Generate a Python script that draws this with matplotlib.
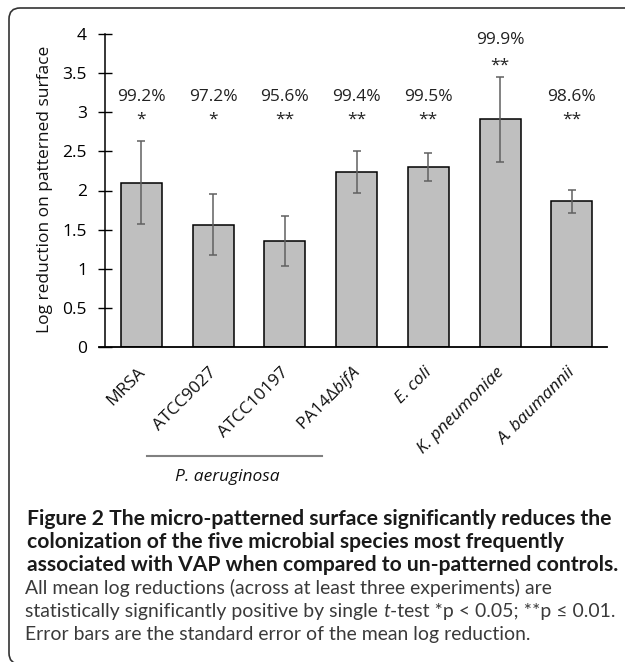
import matplotlib
matplotlib.use("Agg")
import matplotlib.pyplot as plt
import matplotlib.transforms as mtransforms
from matplotlib.patches import FancyBboxPatch
from matplotlib.lines import Line2D
import numpy as np

plt.rcParams['font.family'] = ['Open Sans', 'DejaVu Sans']
plt.rcParams['mathtext.fontset'] = 'custom'
plt.rcParams['mathtext.rm'] = 'Open Sans'
plt.rcParams['mathtext.it'] = 'Open Sans:italic'
plt.rcParams['mathtext.bf'] = 'Open Sans:bold'

# ---- data ----
categories = ['MRSA', 'ATCC9027', 'ATCC10197', r'PA14Δ$\mathit{bifA}$',
              'E. coli', 'K. pneumoniae', 'A. baumannii']
italic = [False, False, False, False, True, True, True]
values = [2.10, 1.56, 1.36, 2.24, 2.30, 2.91, 1.86]
errors = [0.53, 0.39, 0.32, 0.27, 0.18, 0.54, 0.15]
percents = ['99.2%', '97.2%', '95.6%', '99.4%', '99.5%', '99.9%', '98.6%']
stars = ['*', '*', '**', '**', '**', '**', '**']
yticks = [0, 0.5, 1, 1.5, 2, 2.5, 3, 3.5, 4]
ytick_labels = ['0', '0.5', '1', '1.5', '2', '2.5', '3', '3.5', '4']
group_label = 'P. aeruginosa'
caption_bold = ['Figure 2 The micro-patterned surface significantly reduces the',
                'colonization of the five microbial species most frequently',
                'associated with VAP when compared to un-patterned controls.']
caption_regular = [
    [('All mean log reductions (across at least three experiments) are', 'normal')],
    [('statistically significantly positive by single', 'normal'), (' ', 'space'),
     ('t', 'italic'), ('-test *p < 0.05; **p ≤ 0.01.', 'normal')],
    [('Error bars are the standard error of the mean log reduction.', 'normal')],
]

W, H = 625, 662
fig = plt.figure(figsize=(W / 100, H / 100), dpi=100)

def fx(px):
    return px / W

def fy(py):
    return 1 - py / H

# axes: x from 99 to 607 px, y from 34 (4) to 347 (0)
ax = fig.add_axes([fx(99), fy(347), fx(607) - fx(99), fy(34) - fy(347)])
x = np.arange(len(categories))
ax.bar(x, values, width=0.57, color='#bfbfbf', edgecolor='black', linewidth=1.1, zorder=2)
ax.errorbar(x, values, yerr=errors, fmt='none', ecolor='#606060', elinewidth=1.1,
            capsize=3, capthick=1.1, zorder=3)
ax.set_xlim(-0.59, 6.49)
ax.set_ylim(0, 4)

for s in ['top', 'right']:
    ax.spines[s].set_visible(False)
ax.spines['bottom'].set_linewidth(1.3)
ax.spines['left'].set_linewidth(1.1)
ax.spines['left'].set_position(('axes', 6 / 508))
ax.set_yticks(yticks)
ax.set_yticklabels(ytick_labels)
ax.tick_params(axis='y', direction='inout', length=10, width=1.0, pad=8,
               labelsize=12.5, colors='black')
ax.set_xticks([])

# percent labels and stars
for i in range(len(categories)):
    top = values[i] + errors[i]
    if top > 3.1:
        yp, ys = 3.92, 3.60
    else:
        yp, ys = 3.20, 2.90
    ax.text(x[i], yp, percents[i], ha='center', va='center', fontsize=12.5, color='#222222')
    ax.text(x[i], ys, stars[i], ha='center', va='center', fontsize=12.5, color='#222222')

# x labels rotated
trans = mtransforms.blended_transform_factory(ax.transData, fig.transFigure)
for i, lab in enumerate(categories):
    ax.text(x[i] + 0.02, fy(370), lab, rotation=45, ha='right', va='center',
            rotation_mode='anchor', fontsize=12.5, transform=trans,
            fontstyle='italic' if italic[i] else 'normal', color='#111111')

# ylabel
fig.text(fx(45), fy(189), 'Log reduction on patterned surface', rotation=90,
         ha='center', va='center', fontsize=12.5, color='#111111')

# group bracket
fig.add_artist(Line2D([fx(147), fx(322)], [fy(456), fy(456)], color='#808080',
                      linewidth=1.5, transform=fig.transFigure))
fig.text(fx(227), fy(477), group_label, ha='center', va='center', fontsize=12.5,
         fontstyle='italic', color='#111111')

# border
box = FancyBboxPatch((9, -2), 700, H - 8 + 2, boxstyle='round,pad=0,rounding_size=11',
                     transform=mtransforms.IdentityTransform(), facecolor='none',
                     edgecolor='#333333', linewidth=1.2)
fig.add_artist(box)

# caption
renderer = fig.canvas.get_renderer()
cap_font = ['Lato', 'Open Sans', 'DejaVu Sans']
spacing = 23
base0 = 525

def width_of(s, size, weight='normal', style='normal'):
    t = fig.text(0, 0, s, fontsize=size, fontweight=weight, fontstyle=style, family=cap_font)
    w = t.get_window_extent(renderer).width
    t.remove()
    return w

# bold lines: fit first line to target width
bsize = 13.0
bsize = bsize * 586 / width_of(caption_bold[0], bsize, 'bold')
for k, line in enumerate(caption_bold):
    fig.text(fx(27), fy(base0 + spacing * k), line, ha='left', va='baseline',
             fontsize=bsize, fontweight='bold', color='#1a1a1a', family=cap_font)

def runs_width(runs, size):
    total = 0
    for s, kind in runs:
        if kind == 'space':
            total += width_of('x x', size) - width_of('xx', size)
        else:
            total += width_of(s, size, style='italic' if kind == 'italic' else 'normal')
    return total

rsize = 13.0
rsize = rsize * 588 / runs_width(caption_regular[1], rsize)
for k, runs in enumerate(caption_regular):
    xpos = 25
    ypos = fy(base0 + spacing * (3 + k))
    for s, kind in runs:
        if kind == 'space':
            xpos += width_of('x x', rsize) - width_of('xx', rsize)
            continue
        style = 'italic' if kind == 'italic' else 'normal'
        fig.text(fx(xpos), ypos, s, ha='left', va='baseline', fontsize=rsize,
                 fontstyle=style, color='#3a3a3a', family=cap_font)
        xpos += width_of(s, rsize, style=style)

fig.savefig('out.png', dpi=100)
